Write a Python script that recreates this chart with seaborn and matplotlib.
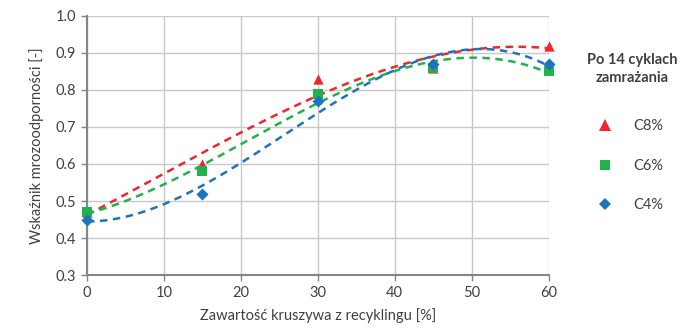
import numpy as np
import pandas as pd
import matplotlib
matplotlib.use("Agg")
import matplotlib.pyplot as plt
import seaborn as sns
from matplotlib.lines import Line2D

x_vals = [0, 15, 30, 45, 60]
c8 = [0.47, 0.60, 0.83, 0.86, 0.92]
c6 = [0.47, 0.58, 0.79, 0.86, 0.85]
c4 = [0.45, 0.52, 0.77, 0.87, 0.87]
series_names = ["C8%", "C6%", "C4%"]
colors = ["#F0262B", "#22B14C", "#1E73BE"]
markers = ["^", "s", "D"]
x_ticks = [0, 10, 20, 30, 40, 50, 60]
y_ticks = [0.3, 0.4, 0.5, 0.6, 0.7, 0.8, 0.9, 1.0]

sns.set_theme(style="white")
plt.rcParams['font.family'] = ['Lato', 'DejaVu Sans']

fig = plt.figure(figsize=(6.85, 3.31), dpi=100)
ax = fig.add_axes([0.127, 0.169, 0.674, 0.783])

xs = np.linspace(0, 60, 300)
for vals, col in zip([c8, c6, c4], colors):
    coef = np.polyfit(x_vals, vals, 3)
    sns.lineplot(x=xs, y=np.polyval(coef, xs), ax=ax, color=col, lw=1.8,
                 dashes=False, zorder=2)
    ax.lines[-1].set_dashes([3.0, 2.2])

sizes = [55, 50, 38]
for vals, col, m, name, s in zip([c8, c6, c4], colors, markers, series_names, sizes):
    sns.scatterplot(x=x_vals, y=vals, ax=ax, color=col, marker=m, s=s,
                    edgecolor=col, linewidth=0, zorder=3, clip_on=False)

ax.set_xlim(0, 60)
ax.set_ylim(0.3, 1.0)
ax.set_xticks(x_ticks)
ax.set_yticks(y_ticks)
ax.set_yticklabels([f"{v:.1f}" for v in y_ticks])
ax.grid(True, color="#C8C8C8", lw=1)
ax.set_axisbelow(True)
for sp in ["top", "right"]:
    ax.spines[sp].set_visible(False)
for sp in ["left", "bottom"]:
    ax.spines[sp].set_color("#868686")
    ax.spines[sp].set_linewidth(1.5)
    ax.spines[sp].set_zorder(2.5)
ax.tick_params(axis="both", direction="out", length=4, width=1, color="#868686",
               labelsize=10.5, labelcolor="#404040", pad=4, left=True, bottom=True)
ax.set_xlabel("Zawartość kruszywa z recyklingu [%]", fontsize=10.5, color="#404040", labelpad=6)
ax.set_ylabel("Wskaźnik mrozoodporności [-]", fontsize=10.5, color="#404040", labelpad=8)

fig.text(632 / 685, 1 - 69 / 331, "Po 14 cyklach\nzamrażania", ha="center", va="center",
         fontsize=10.5, fontweight="bold", color="#404040", linespacing=1.4)

handles = [Line2D([], [], ls="none", marker=m, color=c, markersize=ms, markeredgewidth=0)
           for m, c, ms in zip(markers, colors, [8, 7.5, 6])]
leg = fig.legend(handles, series_names, loc="upper left", bbox_to_anchor=(0.862, 0.64),
                 frameon=False, fontsize=10.5, labelspacing=1.75, handletextpad=0.9,
                 borderaxespad=0, borderpad=0)
for t in leg.get_texts():
    t.set_color("#404040")

fig.savefig("out.png", dpi=100)
